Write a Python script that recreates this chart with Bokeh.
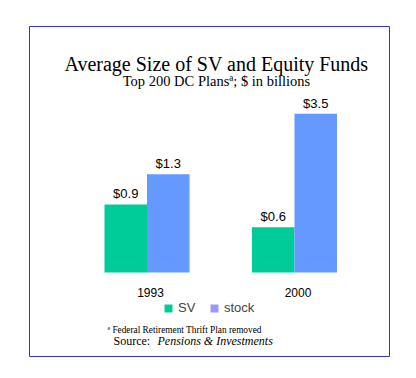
from bokeh.plotting import figure
from bokeh.models import Range1d, Label, Legend, LegendItem, ColumnDataSource
from bokeh.core.properties import value
from bokeh.transform import dodge
from bokeh.embed import file_html
from bokeh.resources import INLINE

# ---- data ----
years = ["1993", "2000"]
series = ["SV", "stock"]
sv_values = [0.9, 0.6]
stock_values = [1.3, 3.5]
# the source chart draws the 2000 stock bar shortened (not to scale)
stock_drawn = [1.3, 2.1]

SV_COLOR = "#00CC99"
STOCK_COLOR = "#6699FF"
STOCK_LEGEND_COLOR = "#9999FF"
BORDER = "#3333CC"

# page-pixel helpers (frame mapping)
X0, XS = 146.5, 147.5   # page x of group 0, px per group
Y0, YS = 272.0, 75.6    # page y of baseline, px per unit
def dx(px):
    return (px - X0) / XS
def dy(py):
    return (Y0 - py) / YS

p = figure(width=408, height=370, output_backend="svg", toolbar_location=None,
           x_range=Range1d(dx(29), dx(389)), y_range=Range1d(dy(356), dy(26)),
           x_axis_location=None, y_axis_location=None,
           min_border_left=29, min_border_right=19, min_border_top=26, min_border_bottom=14,
           outline_line_color=BORDER, outline_line_width=1,
           background_fill_color="white", border_fill_color="white")
p.grid.grid_line_color = None

src = ColumnDataSource(dict(
    x=list(range(len(years))),
    year=years,
    sv=sv_values,
    stock=stock_drawn,
    sv_lbl=["$%.1f" % v for v in sv_values],
    stock_lbl=["$%.1f" % v for v in stock_values],
))

bw = 42.5 / XS
p.vbar(x=dodge("x", -bw / 2, range=p.x_range), top="sv", bottom=0, width=bw,
       source=src, fill_color=SV_COLOR, line_color=None)
p.vbar(x=dodge("x", bw / 2, range=p.x_range), top="stock", bottom=0, width=bw,
       source=src, fill_color=STOCK_COLOR, line_color=None)

lbl_kw = dict(text_align="center", text_baseline="bottom", y_offset=-3,
              text_font=value("Liberation Sans"), text_font_size="13px", text_color="black")
p.text(x=dodge("x", -bw / 2, range=p.x_range), y="sv", text="sv_lbl", source=src, **lbl_kw)
p.text(x=dodge("x", bw / 2, range=p.x_range), y="stock", text="stock_lbl", source=src, **lbl_kw)

p.text(x=dodge("x", 3.5 / XS, range=p.x_range), y=0, text="year", source=src,
       text_align="center", text_baseline="top", y_offset=15,
       text_font=value("Liberation Sans"), text_font_size="12px", text_color="black")

# legend swatches (legend-only renderers, nothing drawn in the plot)
nan = float("nan")
r_sv = p.quad(left=[nan], right=[nan], top=[nan], bottom=[nan], fill_color=SV_COLOR, line_color=None)
r_st = p.quad(left=[nan], right=[nan], top=[nan], bottom=[nan], fill_color=STOCK_LEGEND_COLOR, line_color=None)
legend = Legend(items=[LegendItem(label=series[0], renderers=[r_sv]),
                       LegendItem(label=series[1], renderers=[r_st])],
                orientation="horizontal", location=(163 - 29, 356 - 315),
                padding=0, margin=0, spacing=11, label_standoff=5,
                glyph_width=10, glyph_height=10, label_height=10,
                border_line_color=None, background_fill_alpha=0,
                label_text_font="Liberation Sans", label_text_font_size="13px",
                label_text_baseline="middle")
p.add_layout(legend, "center")

serif = "Liberation Serif"
p.add_layout(Label(x=dx(216), y=dy(63), text="Average Size of SV and Equity Funds",
                   text_align="center", text_baseline="middle",
                   text_font=serif, text_font_size="20px", text_color="black"))
p.add_layout(Label(x=dx(216), y=dy(80), text="Top 200 DC Plans\u00aa; $ in billions",
                   text_align="center", text_baseline="middle",
                   text_font=serif, text_font_size="14.5px", text_color="black"))
p.add_layout(Label(x=dx(107), y=dy(329), text="\u00aa Federal Retirement Thrift Plan removed",
                   text_align="left", text_baseline="middle",
                   text_font=serif, text_font_size="9.3px", text_color="black"))
p.add_layout(Label(x=dx(113), y=dy(340), text="Source:",
                   text_align="left", text_baseline="middle",
                   text_font=serif, text_font_size="12px", text_color="black"))
p.add_layout(Label(x=dx(157), y=dy(340), text="Pensions & Investments",
                   text_align="left", text_baseline="middle", text_font_style="italic",
                   text_font=serif, text_font_size="12px", text_color="black"))

open("out.html", "w").write(file_html(p, INLINE))
